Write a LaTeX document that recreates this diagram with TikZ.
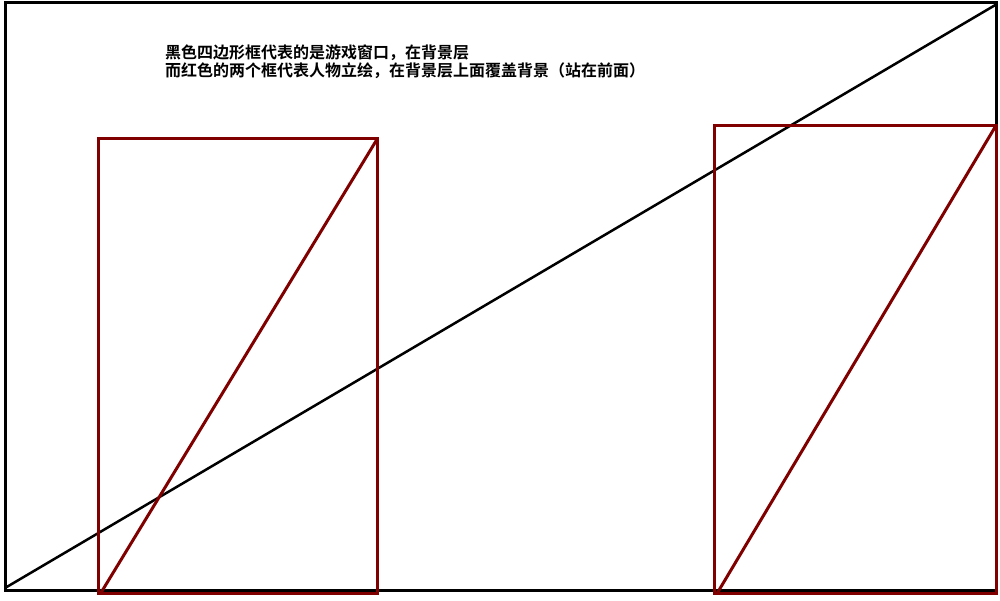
\documentclass[tikz,border=0pt]{standalone}
\usepackage{fontspec}
\newfontfamily\cjk{Noto Sans CJK SC}[BoldFont=* Bold]
\tikzset{
  blackframe/.style={draw=black, line width=3pt, inner sep=0pt, outer sep=0pt},
  redframe/.style={draw=darkred, line width=3pt, inner sep=0pt, outer sep=0pt},
  blackdiag/.style={draw=black, line width=2.5pt},
  reddiag/.style={draw=darkred, line width=3pt},
  caption/.style={anchor=west, inner sep=0pt, font=\cjk\bfseries\fontsize{16}{18}\selectfont}
}
\definecolor{darkred}{HTML}{800000}
\begin{document}
\begin{tikzpicture}[x=1pt,y=-1pt]
\useasboundingbox (0,0) rectangle (1000,600);
\fill[white] (0,0) rectangle (1000,600);
% game window frame
\node[blackframe, minimum width=991pt, minimum height=588pt, anchor=north west] (win) at (5,2) {};
\coordinate (wsw) at (5,588);
\coordinate (wne) at (997,4);
\draw[blackdiag] (wsw) -- (wne);
% character boxes
\node[redframe, minimum width=279pt, minimum height=455pt, anchor=north west] (left) at (98.5,138.5) {};
\node[redframe, minimum width=282pt, minimum height=468pt, anchor=north west] (right) at (714,125.5) {};
\draw[reddiag] (left.south west) ++(2,0) coordinate (lsw) -- (left.north east);
\draw[reddiag] (right.south west) ++(3,0) coordinate (rsw) -- (right.north east);
% captions
\node[caption] (t1) at (165,52.5) {黑色四边形框代表的是游戏窗口，在背景层};
\node[caption] (t2) at (165,70.5) {而红色的两个框代表人物立绘，在背景层上面覆盖背景（站在前面）};
\end{tikzpicture}
\end{document}
